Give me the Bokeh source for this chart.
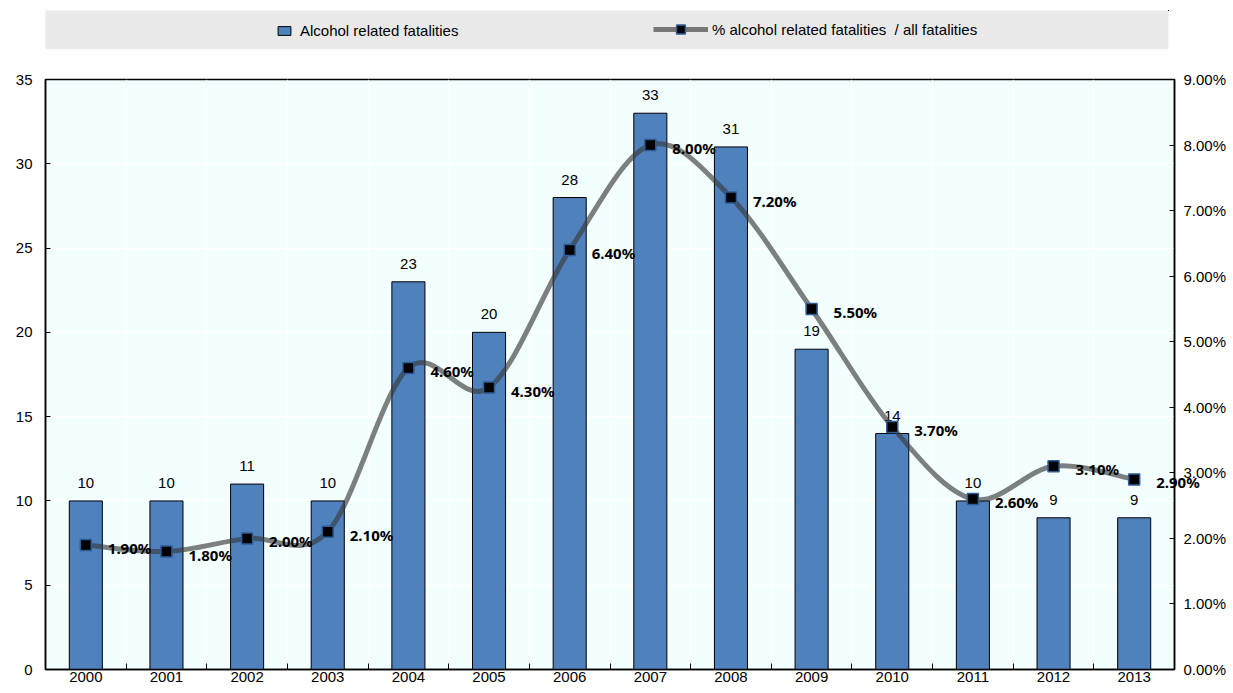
from bokeh.plotting import figure
from bokeh.models import (Range1d, LinearAxis, FixedTicker, PrintfTickFormatter,
                          Legend, LegendItem, Label)
from bokeh.layouts import column
from bokeh.embed import file_html
from bokeh.resources import INLINE
from bokeh.core.properties import value

# ---------------- data ----------------
years = ["2000", "2001", "2002", "2003", "2004", "2005", "2006",
         "2007", "2008", "2009", "2010", "2011", "2012", "2013"]
fatalities = [10, 10, 11, 10, 23, 20, 28, 33, 31, 19, 14, 10, 9, 9]
share_pct = [1.9, 1.8, 2.0, 2.1, 4.6, 4.3, 6.4, 8.0, 7.2, 5.5, 3.7, 2.6, 3.1, 2.9]
left_ticks = [0, 5, 10, 15, 20, 25, 30, 35]
right_ticks = [0, 1, 2, 3, 4, 5, 6, 7, 8, 9]
bar_label = "Alcohol related fatalities"
line_label = "% alcohol related fatalities  / all fatalities"

# ---------------- styles ----------------
BAR_COLOR = "#4F81BD"
LINE_COLOR = "#3A3A3A"
LINE_ALPHA = 0.65
FONT = "Liberation Sans"
n = len(years)
xpos = list(range(n))
bounds = [i + 0.5 for i in range(n - 1)]

# ---------------- legend strip ----------------
# proxy renderers drawn outside this strip's ranges: only their legend glyphs show
lg = figure(frame_width=1123, frame_height=39, min_border_left=45, min_border_right=49,
            min_border_top=10, min_border_bottom=0,
            x_range=Range1d(-1000, -999), y_range=Range1d(-1000, -999),
            x_axis_location=None, y_axis_location=None,
            background_fill_color="#E9E9E9", border_fill_color="white",
            outline_line_color=None, toolbar_location=None, output_backend="svg")
lg.grid.visible = False
d_bar = lg.vbar(x=xpos, top=fatalities, width=0.41, fill_color=BAR_COLOR,
                line_color="black", line_width=1)
d_line = lg.line(x=xpos, y=share_pct, line_color=LINE_COLOR, line_alpha=LINE_ALPHA,
                 line_width=5)
d_mark = lg.scatter(x=xpos, y=share_pct, marker="square", fill_color="black",
                    line_color="#2E5C96", line_width=1.5)

leg1 = Legend(items=[LegendItem(label=bar_label, renderers=[d_bar])],
              location=(231, 10), glyph_width=16, glyph_height=11, label_height=11,
              label_standoff=8, padding=0, margin=0, border_line_color=None,
              background_fill_alpha=0, label_text_font=FONT, label_text_font_size="15px",
              label_text_color="black")
leg2 = Legend(items=[LegendItem(label=line_label, renderers=[d_line, d_mark])],
              location=(608, 9), glyph_width=55, glyph_height=22, label_height=22,
              label_standoff=4, padding=0, margin=0, border_line_color=None,
              background_fill_alpha=0, label_text_font=FONT, label_text_font_size="15px",
              label_text_color="black")
lg.add_layout(leg1)
lg.add_layout(leg2)

# ---------------- main chart ----------------
p = figure(frame_width=1129, frame_height=590, min_border_left=43, min_border_right=52,
           min_border_top=30, min_border_bottom=0,
           x_range=Range1d(-0.5, n - 0.5), y_range=Range1d(left_ticks[0], left_ticks[-1]),
           background_fill_color="#F3FEFF", border_fill_color="white",
           outline_line_color="black", outline_line_width=1.5,
           toolbar_location=None, output_backend="svg")
p.extra_y_ranges = {"pct": Range1d(right_ticks[0], right_ticks[-1])}

# x axis
xa = p.xaxis[0]
xa.ticker = FixedTicker(ticks=xpos, minor_ticks=bounds)
xa.major_label_overrides = {i: y for i, y in zip(xpos, years)}
xa.major_tick_in = 0
xa.major_tick_out = 0
xa.minor_tick_in = 6
xa.minor_tick_out = 0
xa.minor_tick_line_color = "black"
xa.axis_line_width = 1.5
xa.axis_line_color = "black"
xa.major_label_standoff = 2
xa.major_label_text_font = FONT
xa.major_label_text_font_size = "15px"
xa.major_label_text_color = "black"

# left y axis
ya = p.yaxis[0]
ya.ticker = FixedTicker(ticks=left_ticks)
ya.major_tick_in = 5
ya.major_tick_out = 0
ya.minor_tick_line_color = None
ya.axis_line_width = 1.5
ya.axis_line_color = "black"
ya.major_label_standoff = 13
ya.major_label_text_font = FONT
ya.major_label_text_font_size = "15px"
ya.major_label_text_color = "black"

# right y axis
ra = LinearAxis(y_range_name="pct", ticker=FixedTicker(ticks=right_ticks),
                formatter=PrintfTickFormatter(format="%.2f%%"))
ra.major_tick_in = 5
ra.major_tick_out = 0
ra.minor_tick_line_color = None
ra.axis_line_width = 1.5
ra.axis_line_color = "black"
ra.major_label_standoff = 9
ra.major_label_text_font = FONT
ra.major_label_text_font_size = "15px"
ra.major_label_text_color = "black"
p.add_layout(ra, "right")

# grids
p.xgrid.ticker = FixedTicker(ticks=bounds)
p.xgrid.grid_line_color = "white"
p.xgrid.grid_line_width = 1
p.ygrid.ticker = FixedTicker(ticks=left_ticks)
p.ygrid.grid_line_color = "white"
p.ygrid.grid_line_width = 1

# bars
p.vbar(x=xpos, top=fatalities, width=0.41, fill_color=BAR_COLOR,
       line_color="black", line_width=1)
p.text(x=xpos, y=fatalities, text=[str(v) for v in fatalities],
       text_align="center", text_baseline="bottom", y_offset=-13,
       text_font=value(FONT), text_font_size="15px", text_color="black")

# smoothed line (Catmull-Rom -> cubic Bezier through the data points)
pts = list(zip(xpos, share_pct))
x0, y0, x1, y1, cx0, cy0, cx1, cy1 = [], [], [], [], [], [], [], []
for i in range(n - 1):
    pm = pts[i - 1] if i > 0 else pts[i]
    pa = pts[i]
    pb = pts[i + 1]
    pn = pts[i + 2] if i + 2 < n else pts[i + 1]
    x0.append(pa[0]); y0.append(pa[1])
    x1.append(pb[0]); y1.append(pb[1])
    cx0.append(pa[0] + (pb[0] - pm[0]) / 6.0); cy0.append(pa[1] + (pb[1] - pm[1]) / 6.0)
    cx1.append(pb[0] - (pn[0] - pa[0]) / 6.0); cy1.append(pb[1] - (pn[1] - pa[1]) / 6.0)
p.bezier(x0=x0, y0=y0, x1=x1, y1=y1, cx0=cx0, cy0=cy0, cx1=cx1, cy1=cy1,
         line_color=LINE_COLOR, line_alpha=LINE_ALPHA, line_width=5,
         y_range_name="pct")
p.scatter(x=xpos, y=share_pct, marker="square", size=11, fill_color="black",
          line_color="#2E5C96", line_width=1.5, y_range_name="pct")

# percentage labels; the last one overhangs the right axis, so it is placed in a
# side panel (side-panel annotations are not clipped to the frame)
for i, (xv, yv) in enumerate(zip(xpos, share_pct)):
    lab = Label(x=xv, y=yv, text=f"{yv:.2f}%", y_range_name="pct",
                x_offset=22, y_offset=-3, text_align="left",
                text_baseline="middle", text_font="Noto Sans",
                text_font_style="bold", text_font_size="15px",
                text_color="black")
    p.add_layout(lab, "above" if i == n - 1 else "center")

layout = column(lg, p, spacing=0)
open("out.html", "w").write(file_html(layout, INLINE))
